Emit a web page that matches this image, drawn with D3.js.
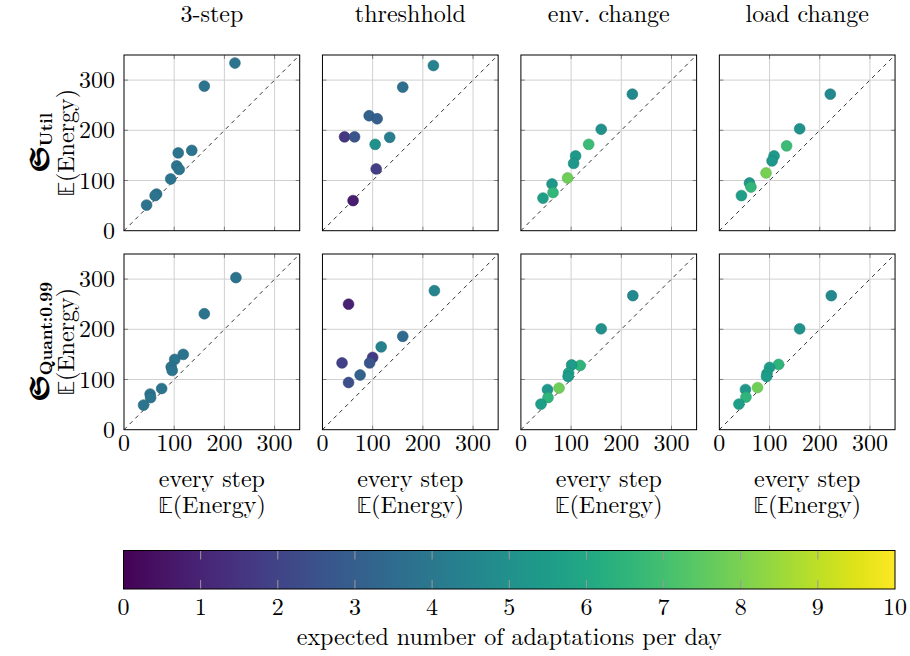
<!DOCTYPE html>
<html>
<head>
<meta charset="utf-8">
<script src="https://cdn.jsdelivr.net/npm/d3@7"></script>
<style>
  body { margin: 0; background: #fff; }
</style>
</head>
<body>
<div id="chart"></div>
<script>
// column titles / row labels
var columns = ["3-step", "threshhold", "env. change", "load change"];
var rowNames = ["Util", "Quant:0.99"];
var xTicks = [0, 100, 200, 300];
var yTicks = [0, 100, 200, 300];
var cbTicks = [0, 1, 2, 3, 4, 5, 6, 7, 8, 9, 10];

// each point: [every step E(Energy), strategy E(Energy), adaptations per day]
var util3step = [[221, 334, 3.8], [160, 288, 3.8], [135, 160, 3.8], [108, 155, 3.8], [105, 129, 3.8],
  [110, 122, 3.8], [93, 103, 3.8], [65, 73, 3.8], [62, 70, 3.8], [45, 51, 3.8]];
var utilThresh = [[221, 329, 4.4], [160, 286, 3.6], [93, 229, 3.1], [109, 223, 3.0], [44, 187, 1.6],
  [64, 187, 2.6], [134, 186, 4.2], [105, 172, 5.0], [107, 123, 1.8], [61, 60, 0.8]];
var utilEnv = [[222, 272, 4.7], [160, 202, 5.0], [135, 172, 6.8], [109, 149, 5.4], [105, 134, 5.3],
  [93, 105, 7.8], [62, 93, 5.3], [64, 76, 6.6], [44, 65, 5.6]];
var utilLoad = [[221, 272, 4.7], [160, 203, 5.0], [134, 169, 6.8], [109, 149, 5.4], [105, 139, 5.3],
  [93, 115, 7.9], [60, 95, 5.3], [63, 87, 6.6], [44, 70, 5.6]];
var quant3step = [[223, 303, 3.8], [160, 231, 3.8], [118, 150, 3.8], [101, 140, 3.8], [94, 125, 3.8],
  [96, 118, 3.8], [75, 82, 3.8], [52, 71, 3.8], [53, 64, 3.8], [39, 49, 3.8]];
var quantThresh = [[223, 277, 4.5], [52, 250, 0.9], [160, 186, 3.4], [117, 165, 4.3], [100, 144, 1.7],
  [94, 133, 2.6], [39, 133, 1.9], [75, 109, 3.1], [52, 94, 2.4]];
var quantEnv = [[223, 267, 4.7], [160, 201, 5.0], [118, 128, 6.5], [101, 129, 5.5], [95, 113, 5.7],
  [94, 106, 5.5], [76, 83, 7.8], [53, 80, 5.3], [54, 64, 6.5], [40, 51, 5.6]];
var quantLoad = [[223, 267, 4.7], [160, 201, 5.0], [118, 130, 6.5], [100, 124, 5.5], [95, 112, 5.7],
  [94, 106, 5.5], [76, 84, 7.8], [52, 80, 5.3], [53, 65, 6.5], [39, 51, 5.6]];

var panels = [
  [util3step, utilThresh, utilEnv, utilLoad],
  [quant3step, quantThresh, quantEnv, quantLoad]
];

var W = 910, H = 656;
var size = 175.7, left = 124, top0 = 55, stepX = 198.45, stepY = 199;
var fs = 24;
var mathFont = "'Latin Modern Math', 'STIX Two Math', 'Latin Modern Roman', serif";

var svg = d3.select("#chart").append("svg")
  .attr("width", W).attr("height", H)
  .attr("font-family", "'Latin Modern Roman', 'Liberation Serif', serif");

var color = d3.scaleSequential(d3.interpolateViridis).domain([0, 10]);

var x = d3.scaleLinear().domain([0, 350]).range([0, size]);
var y = d3.scaleLinear().domain([0, 350]).range([size, 0]);

// E(Energy) with a blackboard E
function energy(sel) {
  sel.append("tspan").attr("font-family", mathFont).text("\u{1D53C}");
  sel.append("tspan").text("(Energy)");
}

panels.forEach(function(row, r) {
  row.forEach(function(data, c) {
    var g = svg.append("g")
      .attr("transform", "translate(" + (left + c * stepX) + "," + (top0 + r * stepY) + ")");

    // grid
    g.selectAll(".gx").data(xTicks.slice(1)).enter().append("line")
      .attr("x1", d => x(d)).attr("x2", d => x(d))
      .attr("y1", 0).attr("y2", size)
      .attr("stroke", "#d0d0d0").attr("stroke-width", 1);
    g.selectAll(".gy").data(yTicks.slice(1)).enter().append("line")
      .attr("y1", d => y(d)).attr("y2", d => y(d))
      .attr("x1", 0).attr("x2", size)
      .attr("stroke", "#d0d0d0").attr("stroke-width", 1);

    // tick marks, inside on all four sides
    var tl = 4;
    xTicks.slice(1).forEach(function(t) {
      g.append("line").attr("x1", x(t)).attr("x2", x(t)).attr("y1", size).attr("y2", size - tl)
        .attr("stroke", "#808080");
      g.append("line").attr("x1", x(t)).attr("x2", x(t)).attr("y1", 0).attr("y2", tl)
        .attr("stroke", "#808080");
    });
    yTicks.slice(1).forEach(function(t) {
      g.append("line").attr("y1", y(t)).attr("y2", y(t)).attr("x1", 0).attr("x2", tl)
        .attr("stroke", "#808080");
      g.append("line").attr("y1", y(t)).attr("y2", y(t)).attr("x1", size).attr("x2", size - tl)
        .attr("stroke", "#808080");
    });

    // diagonal
    g.append("line")
      .attr("x1", x(0)).attr("y1", y(0)).attr("x2", x(350)).attr("y2", y(350))
      .attr("stroke", "#000").attr("stroke-width", 0.8).attr("stroke-dasharray", "4,4");

    // points
    g.selectAll("circle").data(data).enter().append("circle")
      .attr("cx", d => x(d[0]))
      .attr("cy", d => y(d[1]))
      .attr("r", 5.4)
      .attr("fill", d => color(d[2]))
      .attr("stroke", d => d3.color(color(d[2])).darker(0.4))
      .attr("stroke-width", 0.6);

    // frame
    g.append("rect").attr("width", size).attr("height", size)
      .attr("fill", "none").attr("stroke", "#000").attr("stroke-width", 1);

    if (c === 0) {
      g.selectAll(".yl").data(yTicks).enter().append("text")
        .attr("x", -9).attr("y", d => y(d)).attr("dy", "0.34em")
        .attr("text-anchor", "end").attr("font-size", fs)
        .text(d => d);
    }
    if (r === 1) {
      g.selectAll(".xl").data(xTicks).enter().append("text")
        .attr("x", d => x(d)).attr("y", size + 21)
        .attr("text-anchor", "middle").attr("font-size", fs)
        .text(d => d);
      g.append("text").attr("x", size / 2).attr("y", size + 57)
        .attr("text-anchor", "middle").attr("font-size", fs).text("every step");
      g.append("text").attr("x", size / 2).attr("y", size + 83)
        .attr("text-anchor", "middle").attr("font-size", fs).call(energy);
    }
    if (r === 0) {
      g.append("text").attr("x", size / 2).attr("y", -33)
        .attr("text-anchor", "middle").attr("font-size", fs).text(columns[c]);
    }
    if (c === 0) {
      var lab = g.append("text").attr("transform", "translate(" + (-76) + "," + (size / 2) + ") rotate(-90)")
        .attr("text-anchor", "middle").attr("font-size", fs);
      lab.append("tspan").attr("font-family", mathFont).attr("font-weight", "bold")
        .attr("font-size", 27).text("\u{1D57E}");
      lab.append("tspan").attr("font-weight", "bold").attr("font-size", 17).attr("dy", 4).text(rowNames[r]);
      g.append("text").attr("transform", "translate(" + (-50) + "," + (size / 2) + ") rotate(-90)")
        .attr("text-anchor", "middle").attr("font-size", fs).call(energy);
    }
  });
});

// colour bar
var cbX0 = 123.5, cbX1 = 895, cbY = 550.5, cbH = 38.5;
var cb = d3.scaleLinear().domain([0, 10]).range([cbX0, cbX1]);
var defs = svg.append("defs");
var grad = defs.append("linearGradient").attr("id", "vir");
d3.range(0, 1.0001, 0.05).forEach(function(t) {
  grad.append("stop").attr("offset", t).attr("stop-color", d3.interpolateViridis(t));
});
svg.append("rect").attr("x", cbX0).attr("y", cbY).attr("width", cbX1 - cbX0).attr("height", cbH)
  .attr("fill", "url(#vir)");
cbTicks.slice(1, -1).forEach(function(t) {
  svg.append("line").attr("x1", cb(t)).attr("x2", cb(t)).attr("y1", cbY).attr("y2", cbY + 9)
    .attr("stroke", "#999").attr("stroke-width", 1);
  svg.append("line").attr("x1", cb(t)).attr("x2", cb(t)).attr("y1", cbY + cbH).attr("y2", cbY + cbH - 9)
    .attr("stroke", "#999").attr("stroke-width", 1);
});
svg.append("rect").attr("x", cbX0).attr("y", cbY).attr("width", cbX1 - cbX0).attr("height", cbH)
  .attr("fill", "none").attr("stroke", "#000").attr("stroke-width", 1);
svg.selectAll(".cbl").data(cbTicks).enter().append("text")
  .attr("x", d => cb(d)).attr("y", 615).attr("text-anchor", "middle").attr("font-size", fs)
  .text(d => d);
svg.append("text").attr("x", (cbX0 + cbX1) / 2).attr("y", 645).attr("text-anchor", "middle")
  .attr("font-size", fs).text("expected number of adaptations per day");
</script>
</body>
</html>
